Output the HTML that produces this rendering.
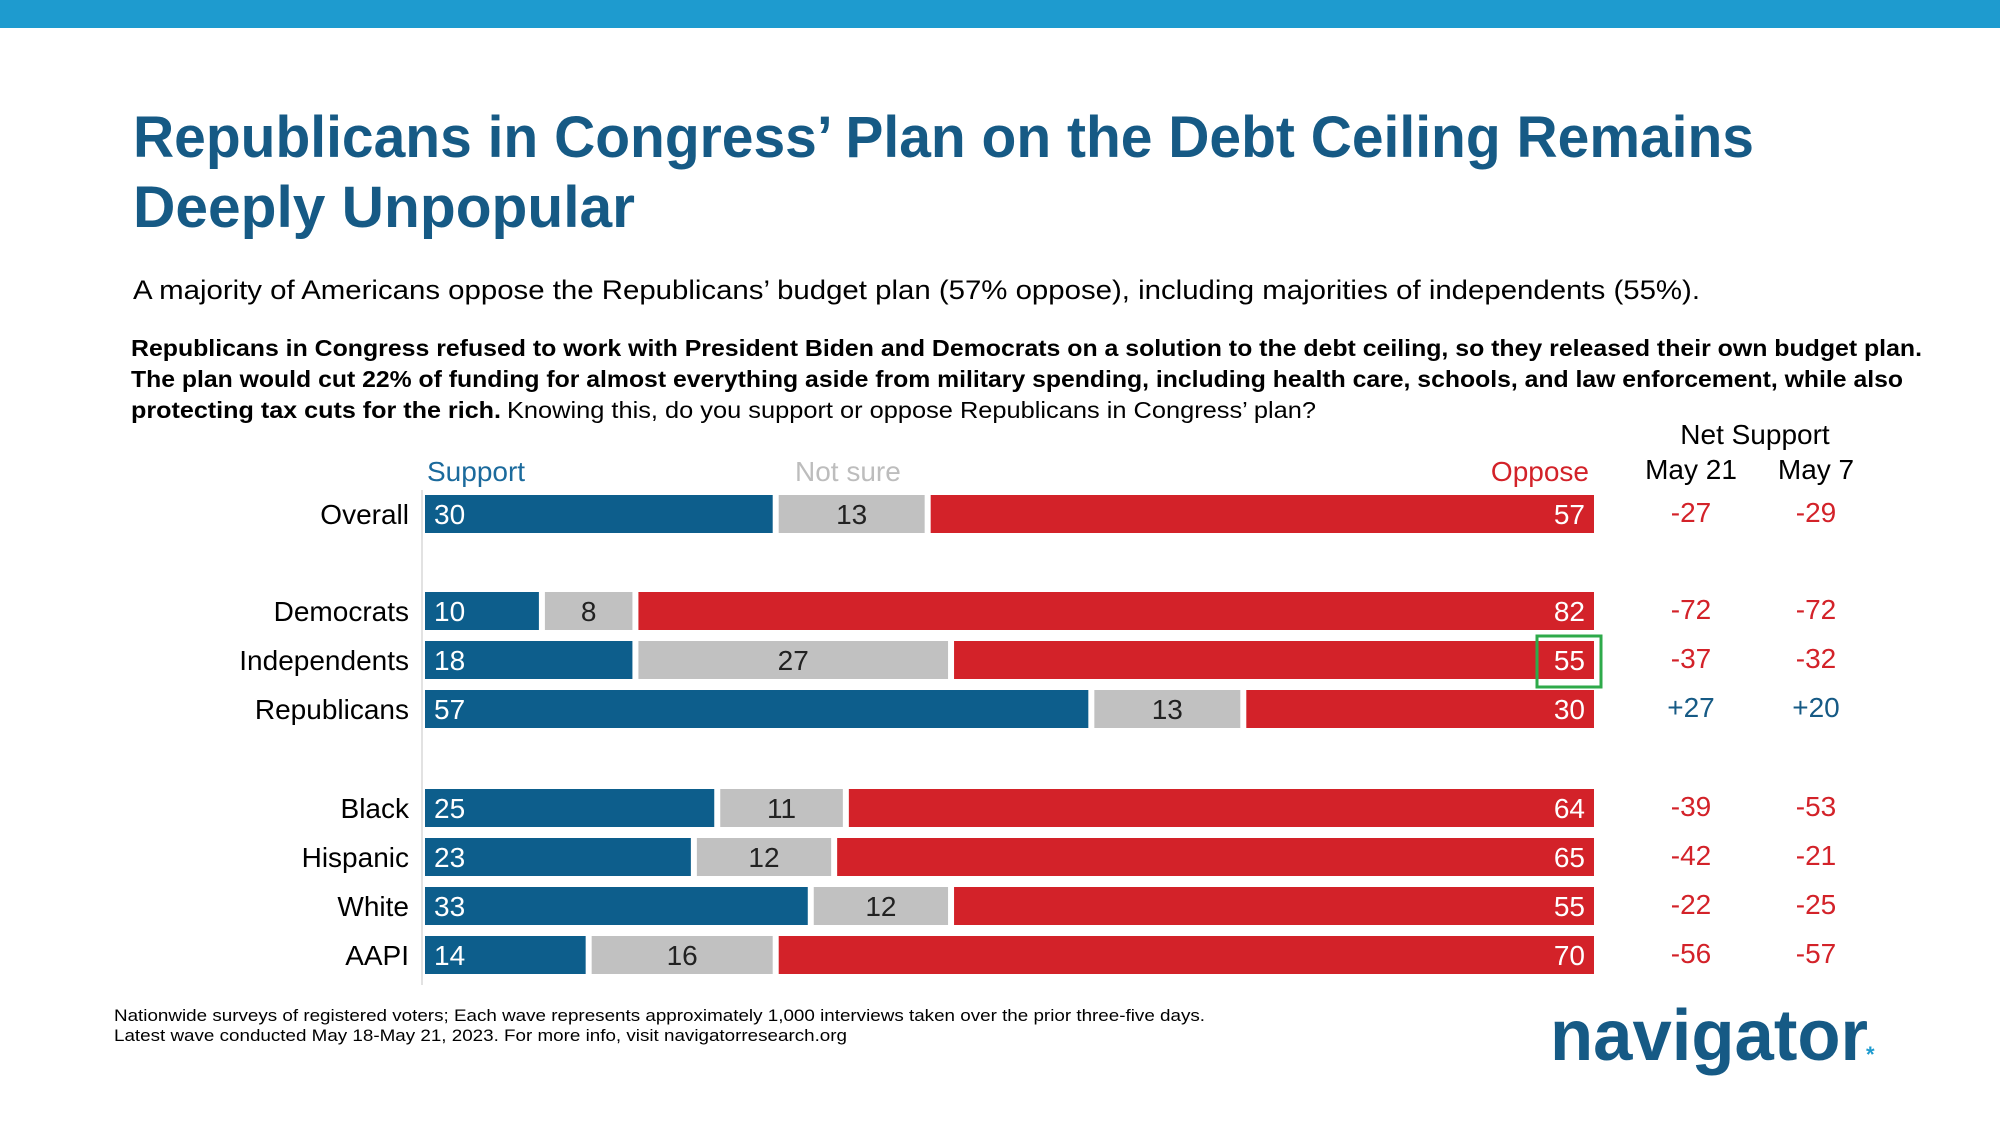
<!DOCTYPE html>
<html><head><meta charset="utf-8"><style>
html,body{margin:0;padding:0;background:#fff;}
svg{display:block;font-family:"Liberation Sans",sans-serif;}
</style></head><body>
<svg id="chart" width="2000" height="1125" viewBox="0 0 2000 1125">
<rect x="0" y="0" width="2000" height="28" fill="#1e9bcf"/>
<text x="133" y="157" font-size="58" font-weight="bold" fill="#165a85" textLength="1621" lengthAdjust="spacingAndGlyphs">Republicans in Congress’ Plan on the Debt Ceiling Remains</text>
<text x="133" y="227" font-size="58" font-weight="bold" fill="#165a85" textLength="502" lengthAdjust="spacingAndGlyphs">Deeply Unpopular</text>
<text x="133" y="299" font-size="27" fill="#000" textLength="1567" lengthAdjust="spacingAndGlyphs">A majority of Americans oppose the Republicans’ budget plan (57% oppose), including majorities of independents (55%).</text>
<text x="131" y="356" font-size="23" font-weight="bold" fill="#000" textLength="1791" lengthAdjust="spacingAndGlyphs">Republicans in Congress refused to work with President Biden and Democrats on a solution to the debt ceiling, so they released their own budget plan.</text>
<text x="131" y="387" font-size="23" font-weight="bold" fill="#000" textLength="1772" lengthAdjust="spacingAndGlyphs">The plan would cut 22% of funding for almost everything aside from military spending, including health care, schools, and law enforcement, while also</text>
<text x="131" y="418" font-size="23" font-weight="bold" fill="#000" textLength="370" lengthAdjust="spacingAndGlyphs">protecting tax cuts for the rich.</text>
<text x="507" y="418" font-size="23" fill="#000" textLength="809" lengthAdjust="spacingAndGlyphs">Knowing this, do you support or oppose Republicans in Congress’ plan?</text>
<text x="1755" y="444" font-size="28" fill="#000" text-anchor="middle">Net Support</text>
<text x="1691" y="479" font-size="28" fill="#000" text-anchor="middle">May 21</text>
<text x="1816" y="479" font-size="28" fill="#000" text-anchor="middle">May 7</text>
<text x="427" y="481" font-size="28" fill="#1b6a9c">Support</text>
<text x="795" y="481" font-size="28" fill="#bdbdbd">Not sure</text>
<text x="1589" y="481" font-size="28" fill="#d32229" text-anchor="end">Oppose</text>
<line x1="422" y1="490" x2="422" y2="985" stroke="#e2e2e2" stroke-width="2"/>
<g id="bars"></g>
<rect x="1537" y="636" width="64" height="51" fill="none" stroke="#2eaa4a" stroke-width="3"/>
<text x="114" y="1021" font-size="17" fill="#000" textLength="1091" lengthAdjust="spacingAndGlyphs">Nationwide surveys of registered voters; Each wave represents approximately 1,000 interviews taken over the prior three-five days.</text>
<text x="114" y="1041" font-size="17" fill="#000" textLength="733" lengthAdjust="spacingAndGlyphs">Latest wave conducted May 18-May 21, 2023. For more info, visit navigatorresearch.org</text>
<text x="1550" y="1060" font-size="72" font-weight="bold" fill="#165a85" textLength="318" lengthAdjust="spacingAndGlyphs">navigator</text>
<text x="1866" y="1062" font-size="22" font-weight="bold" fill="#1e9bcf">*</text>
</svg>
<script>
const categories = ["Overall","Democrats","Independents","Republicans","Black","Hispanic","White","AAPI"];
const support = [30,10,18,57,25,23,33,14];
const notSure = [13,8,27,13,11,12,12,16];
const oppose = [57,82,55,30,64,65,55,70];
const netMay21 = ["-27","-72","-37","+27","-39","-42","-22","-56"];
const netMay7 = ["-29","-72","-32","+20","-53","-21","-25","-57"];
const rowSlot = [0,2,3,4,6,7,8,9];

const X0 = 425, X1 = 1594, GAP = 6, BH = 38;
const xScale = v => X0 + (X1 - X0) * v / 100;
const yCenter = i => 514 + rowSlot[i] * 49.3 - (rowSlot[i] >= 2 ? 0 : 0) + (rowSlot[i]>=6 ? 0 : 0);
const NS = "http://www.w3.org/2000/svg";
const g = document.getElementById("bars");
function mk(tag, attrs){const e=document.createElementNS(NS,tag);for(const k in attrs)e.setAttribute(k,attrs[k]);g.appendChild(e);return e;}
function yc(i){const s=rowSlot[i];return 514 + s*49 - (s>=2?1:0) + (s>=6?1:0);}
categories.forEach((c,i)=>{
  const y = yc(i);
  const a = xScale(0), b = xScale(support[i]), cc = xScale(support[i]+notSure[i]), d = xScale(support[i]+notSure[i]+oppose[i]);
  const lab = mk("text",{x:409,y:y+10,"font-size":28,"text-anchor":"end",fill:"#000"}); lab.textContent=c;
  
  
  const r1 = mk("rect",{x:a,y:y-BH/2,width:Math.max(0,b-a-GAP/2),height:BH,fill:"#0d5e8c"});
  
  
  const r2 = mk("rect",{x:b+GAP/2,y:y-BH/2,width:Math.max(0,cc-b-GAP),height:BH,fill:"#c1c1c1"});
  
  
  const r3 = mk("rect",{x:cc+GAP/2,y:y-BH/2,width:Math.max(0,d-cc-GAP/2),height:BH,fill:"#d32229"});
  
  
  const t1 = mk("text",{x:a+9,y:y+10,"font-size":28,fill:"#fff"}); t1.textContent=support[i];
  
  
  const t2 = mk("text",{x:(b+cc)/2,y:y+10,"font-size":28,fill:"#222","text-anchor":"middle"}); t2.textContent=notSure[i];
  
  
  const t3 = mk("text",{x:d-9,y:y+10,"font-size":28,fill:"#fff","text-anchor":"end"}); t3.textContent=oppose[i];
  
  
  const n1 = mk("text",{x:1691,y:y+8,"font-size":28,"text-anchor":"middle",fill:netMay21[i][0]=="+"?"#165a85":"#d32229"}); n1.textContent=netMay21[i];
  
  
  const n2 = mk("text",{x:1816,y:y+8,"font-size":28,"text-anchor":"middle",fill:netMay7[i][0]=="+"?"#165a85":"#d32229"}); n2.textContent=netMay7[i];
  
  
});
</script>
</body></html>
